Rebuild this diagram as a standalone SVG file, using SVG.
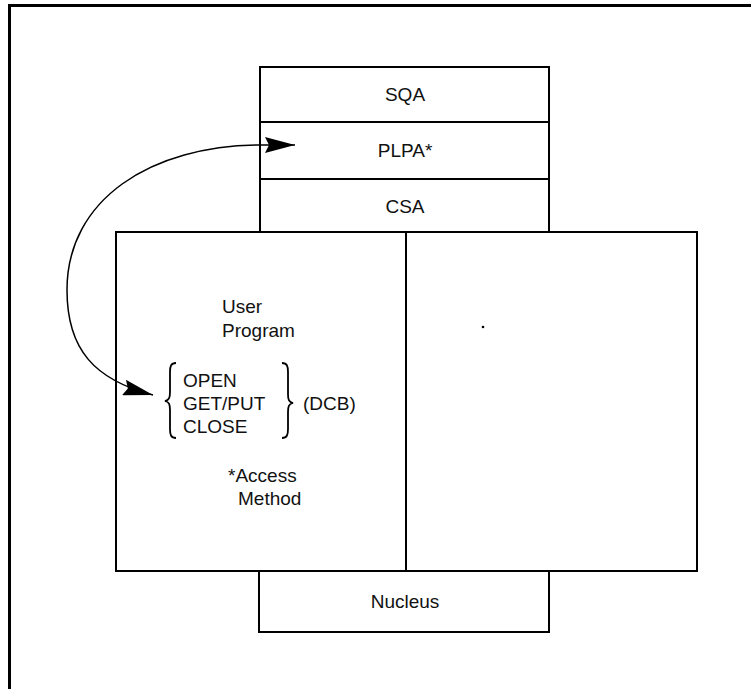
<svg xmlns="http://www.w3.org/2000/svg" width="751" height="689" viewBox="0 0 751 689">
<style>
  .box { fill: none; stroke: #000; stroke-width: 2; }
  .lbl { font-family: "Liberation Sans", Arial, sans-serif; font-size: 19px; fill: #111; }
  .mid { text-anchor: middle; }
  .conn { fill: none; stroke: #000; stroke-width: 1.5; }
  .brace { fill: none; stroke: #000; stroke-width: 1.8; }
</style>
<defs>
  <marker id="ah" viewBox="0 0 30 16" refX="30" refY="8" markerWidth="30" markerHeight="16" markerUnits="userSpaceOnUse" orient="auto-start-reverse">
    <path d="M0,0 L30,8 L0,16 L4,8 z" fill="#000"/>
  </marker>
</defs>
<rect width="751" height="689" fill="#fff"/>
<path d="M9.5,689 V5.5 H751" fill="none" stroke="#000" stroke-width="3"/>

<g id="sqa">
  <rect class="box" x="260" y="67" width="289" height="55"/>
  <text class="lbl mid" x="405" y="101">SQA</text>
</g>
<g id="plpa">
  <rect class="box" x="260" y="122" width="289" height="57"/>
  <text class="lbl mid" x="405" y="157">PLPA*</text>
</g>
<g id="csa">
  <rect class="box" x="260" y="179" width="289" height="53"/>
  <text class="lbl mid" x="405" y="213">CSA</text>
</g>
<g id="user-region">
  <rect class="box" x="116" y="232" width="290" height="339"/>
  <text class="lbl" x="222" y="313">User</text>
  <text class="lbl" x="222" y="337">Program</text>
  <path class="brace" d="M176,363 C171,363 170,366 170,372 L170,392 C170,398 169,400 165,401 C169,402 170,404 170,410 L170,429 C170,435 171,438 176,438"/>
  <text class="lbl" x="183" y="387">OPEN</text>
  <text class="lbl" x="183" y="410">GET/PUT</text>
  <text class="lbl" x="183" y="433">CLOSE</text>
  <path class="brace" d="M282,363 C287,363 288,366 288,372 L288,394 C288,400 289,402 293,403 C289,404 288,406 288,412 L288,429 C288,435 287,438 282,438"/>
  <text class="lbl" x="303" y="410">(DCB)</text>
  <text class="lbl" x="228" y="482">*Access</text>
  <text class="lbl" x="238" y="505">Method</text>
</g>
<g id="right-region">
  <rect class="box" x="406" y="232" width="291" height="339"/>
  <circle cx="483" cy="327" r="1.3" fill="#000"/>
</g>
<g id="nucleus">
  <rect class="box" x="259" y="571" width="290" height="61"/>
  <text class="lbl mid" x="405" y="608">Nucleus</text>
</g>
<g id="connectors">
  <path class="conn" marker-start="url(#ah)" marker-end="url(#ah)" d="M295,145 L262,145 C150,145 67,200 67,290 C67,350 95,380 153,395"/>
</g>
</svg>
